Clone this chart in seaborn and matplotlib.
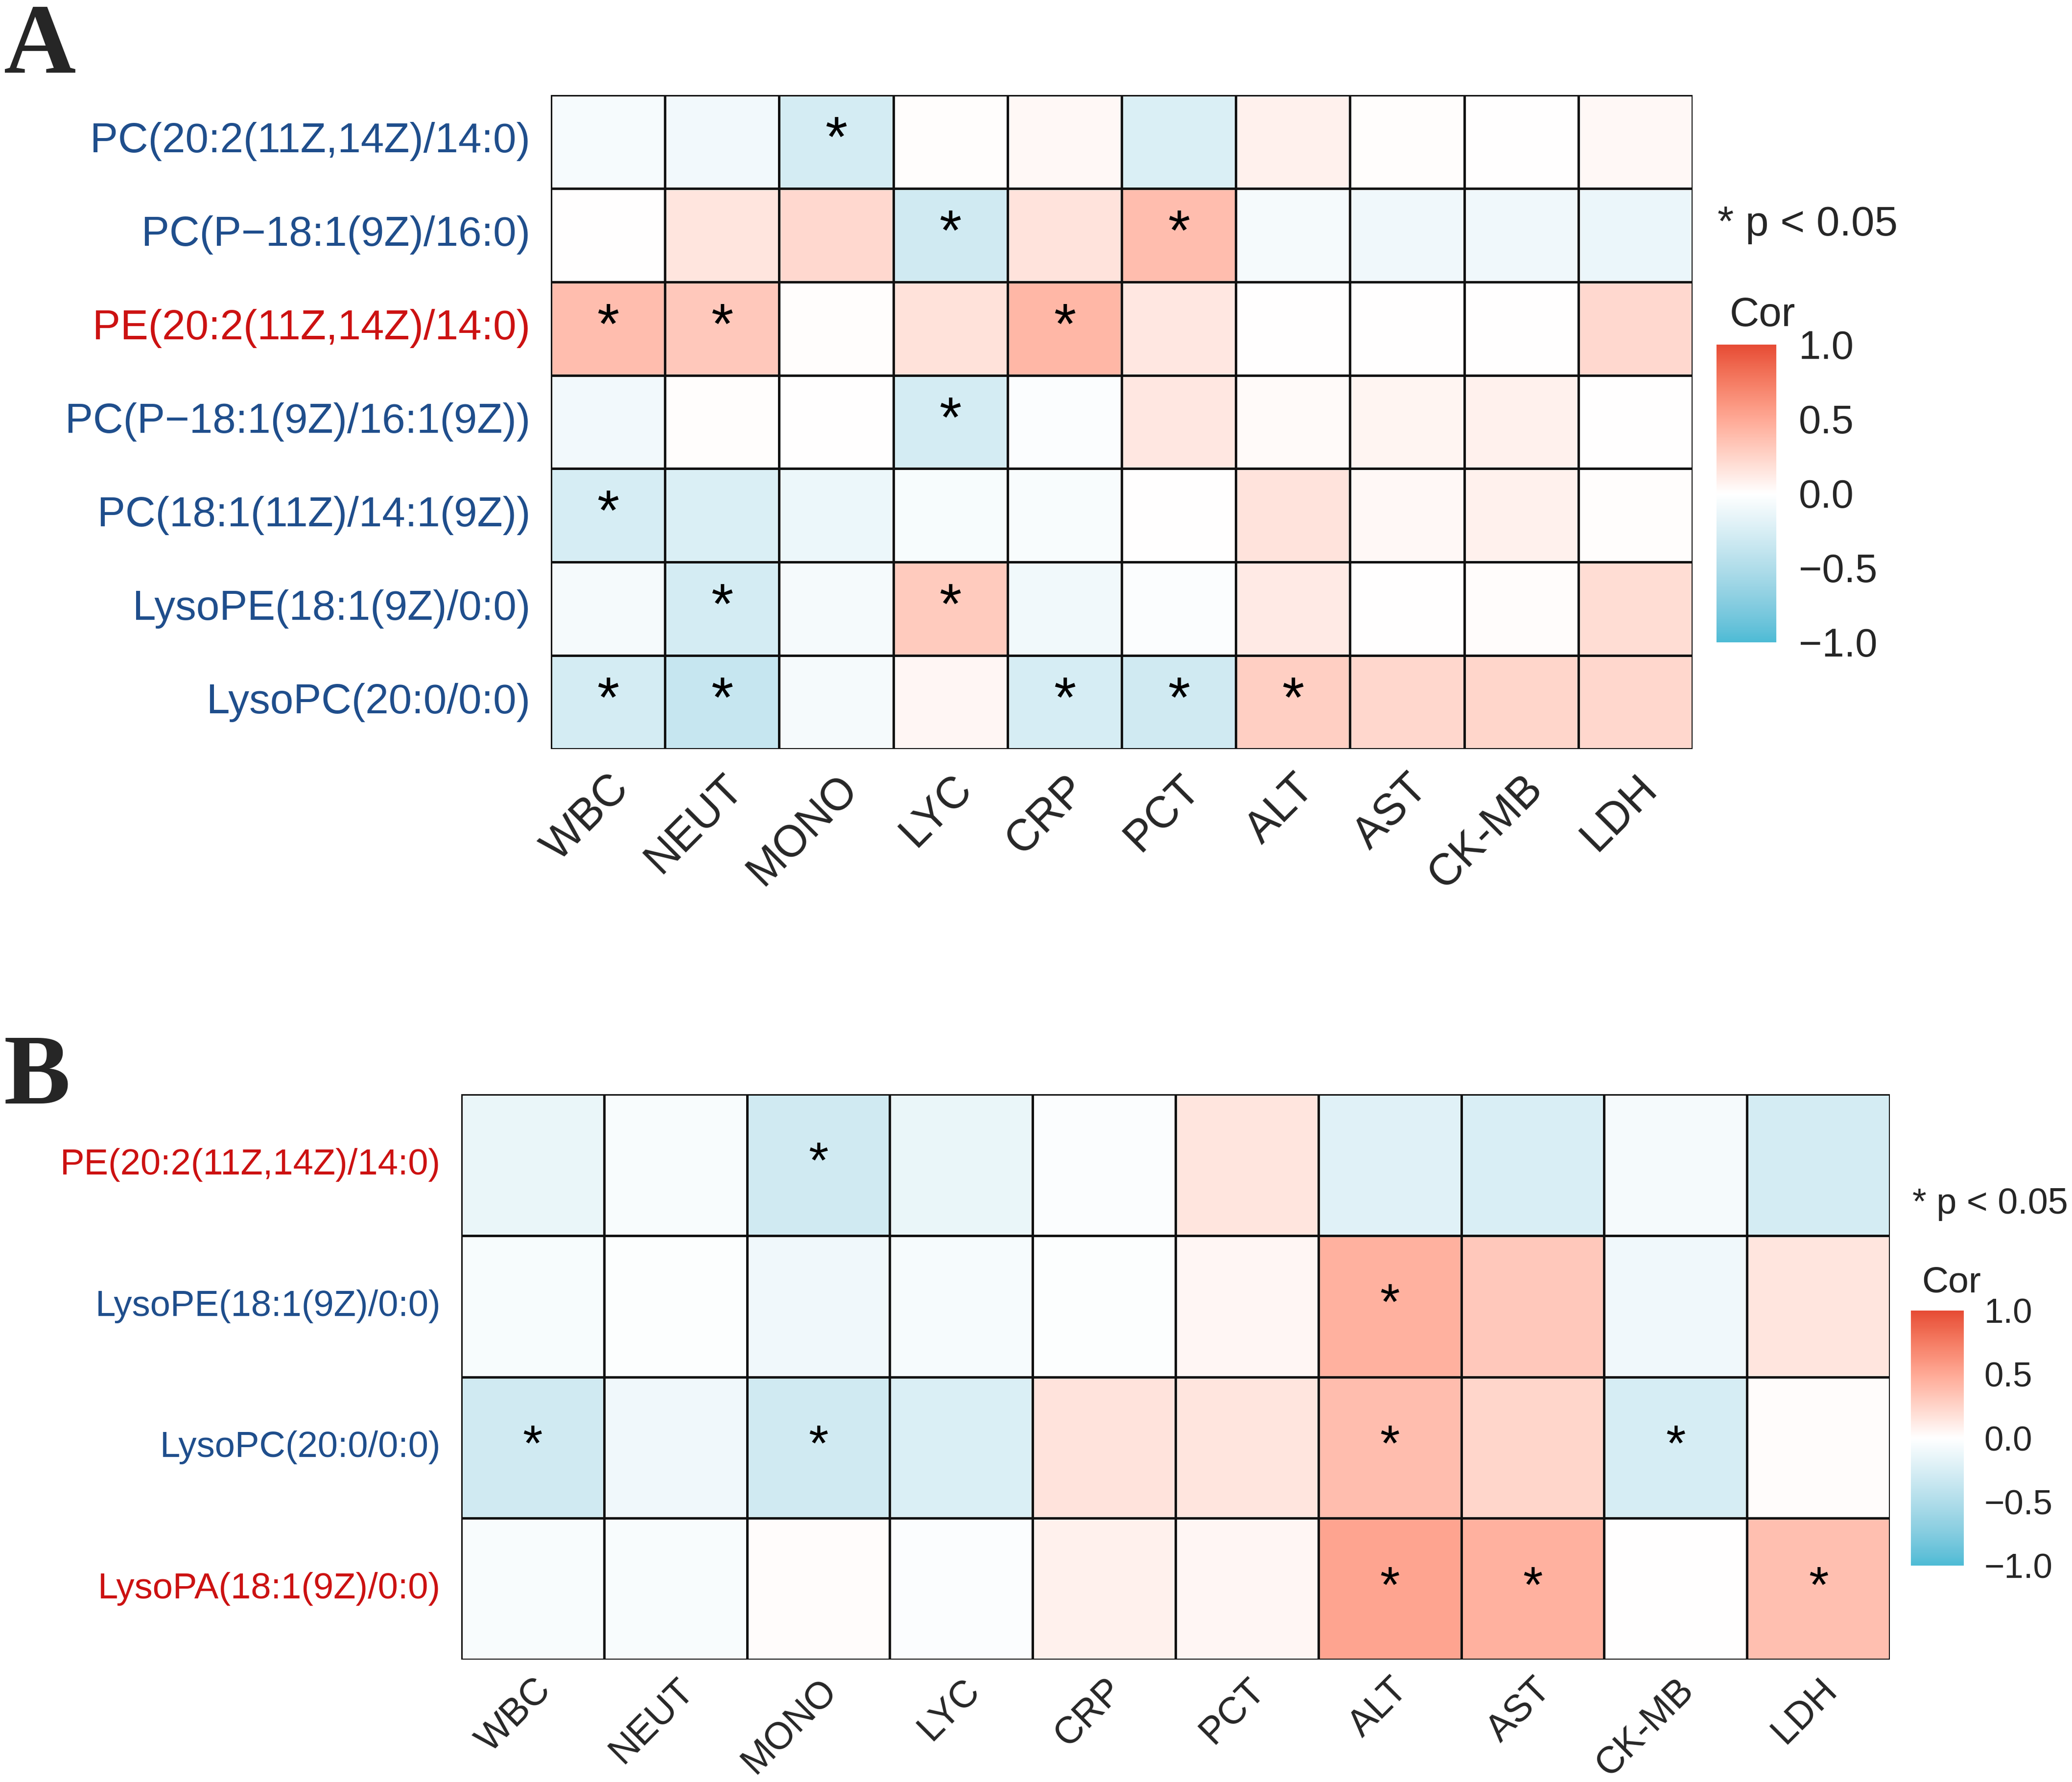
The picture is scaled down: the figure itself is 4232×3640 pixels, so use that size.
import numpy as np
import pandas as pd
import matplotlib
matplotlib.use("Agg")
import matplotlib.pyplot as plt
import seaborn as sns
from matplotlib.colors import ListedColormap, to_rgb

# ---- data ----
clinical = ["WBC", "NEUT", "MONO", "LYC", "CRP", "PCT", "ALT", "AST", "CK-MB", "LDH"]

lipids_a = ["PC(20:2(11Z,14Z)/14:0)", "PC(P\u221218:1(9Z)/16:0)", "PE(20:2(11Z,14Z)/14:0)",
            "PC(P\u221218:1(9Z)/16:1(9Z))", "PC(18:1(11Z)/14:1(9Z))", "LysoPE(18:1(9Z)/0:0)",
            "LysoPC(20:0/0:0)"]
cor_a = [
    [-0.06, -0.08, -0.28, 0.01, 0.04, -0.24, 0.08, 0.01, 0.00, 0.04],
    [0.00, 0.15, 0.22, -0.30, 0.16, 0.38, -0.07, -0.10, -0.10, -0.13],
    [0.38, 0.32, 0.01, 0.17, 0.42, 0.14, 0.00, 0.00, 0.00, 0.22],
    [-0.08, 0.01, 0.00, -0.28, -0.03, 0.14, 0.03, 0.06, 0.08, 0.00],
    [-0.26, -0.24, -0.12, -0.05, -0.04, 0.00, 0.16, 0.04, 0.08, 0.01],
    [-0.07, -0.28, -0.07, 0.30, -0.09, -0.03, 0.12, 0.00, 0.02, 0.20],
    [-0.28, -0.36, -0.07, 0.05, -0.26, -0.30, 0.28, 0.23, 0.24, 0.23],
]
sig_a = [
    [0, 0, 1, 0, 0, 0, 0, 0, 0, 0],
    [0, 0, 0, 1, 0, 1, 0, 0, 0, 0],
    [1, 1, 0, 0, 1, 0, 0, 0, 0, 0],
    [0, 0, 0, 1, 0, 0, 0, 0, 0, 0],
    [1, 0, 0, 0, 0, 0, 0, 0, 0, 0],
    [0, 1, 0, 1, 0, 0, 0, 0, 0, 0],
    [1, 1, 0, 0, 1, 1, 1, 0, 0, 0],
]
label_col_a = ["blue", "blue", "red", "blue", "blue", "blue", "blue"]

lipids_b = ["PE(20:2(11Z,14Z)/14:0)", "LysoPE(18:1(9Z)/0:0)", "LysoPC(20:0/0:0)",
            "LysoPA(18:1(9Z)/0:0)"]
cor_b = [
    [-0.14, -0.04, -0.30, -0.14, -0.03, 0.15, -0.20, -0.25, -0.07, -0.28],
    [-0.05, -0.02, -0.10, -0.06, -0.02, 0.05, 0.45, 0.32, -0.10, 0.15],
    [-0.30, -0.10, -0.30, -0.24, 0.16, 0.15, 0.38, 0.24, -0.26, 0.02],
    [-0.04, -0.04, 0.02, -0.03, 0.08, 0.05, 0.53, 0.45, 0.00, 0.37],
]
sig_b = [
    [0, 0, 1, 0, 0, 0, 0, 0, 0, 0],
    [0, 0, 0, 0, 0, 0, 1, 0, 0, 0],
    [1, 0, 1, 0, 0, 0, 1, 0, 1, 0],
    [0, 0, 0, 0, 0, 0, 1, 1, 0, 1],
]
label_col_b = ["red", "blue", "blue", "red"]

colors = {"blue": "#1F4E8C", "red": "#CC1111"}


# diverging ramp interpolated in Lab space (like ggplot's gradient2)
WHITE = np.array([0.95047, 1.0, 1.08883])
M = np.array([[0.4124, 0.3576, 0.1805], [0.2126, 0.7152, 0.0722], [0.0193, 0.1192, 0.9505]])


def rgb2lab(c):
    c = np.array(to_rgb(c))
    lin = np.where(c <= 0.04045, c / 12.92, ((c + 0.055) / 1.055) ** 2.4)
    xyz = M @ lin / WHITE
    f = np.where(xyz > 0.008856, np.cbrt(xyz), 7.787 * xyz + 16 / 116)
    return np.array([116 * f[1] - 16, 500 * (f[0] - f[1]), 200 * (f[1] - f[2])])


def lab2rgb(lab):
    fy = (lab[..., 0] + 16) / 116
    fx = fy + lab[..., 1] / 500
    fz = fy - lab[..., 2] / 200
    f = np.stack([fx, fy, fz], axis=-1)
    xyz = np.where(f > 0.2069, f ** 3, (f - 16 / 116) / 7.787) * WHITE
    lin = xyz @ np.linalg.inv(M).T
    lin = np.clip(lin, 0, 1)
    c = np.where(lin <= 0.0031308, 12.92 * lin, 1.055 * lin ** (1 / 2.4) - 0.055)
    return np.clip(c, 0, 1)


lo, mid, hi = rgb2lab("#4DBBD5"), rgb2lab("#FFFFFF"), rgb2lab("#E64B35")
t = np.linspace(-1, 1, 256)[:, None]
lab = np.where(t < 0, mid + (lo - mid) * (-t), mid + (hi - mid) * t)
cmap = ListedColormap(lab2rgb(lab))

sns.set_style("white")
plt.rcParams["font.family"] = ["Liberation Sans", "DejaVu Sans"]

W, H = 4232, 3640
fig = plt.figure(figsize=(W / 300, H / 300), dpi=300)


def box(x0, y0, x1, y1):
    return [x0 / W, 1 - y1 / H, (x1 - x0) / W, (y1 - y0) / H]


def panel(ax, cax, rows, cor, sig, cols, ylab_fs, xlab_fs, xpad, star_fs, cb_fs, cb_pad):
    df = pd.DataFrame(cor, index=rows, columns=clinical)
    stars = np.where(np.array(sig) == 1, "*", "")
    sns.heatmap(df, ax=ax, cbar_ax=cax, cmap=cmap, vmin=-1, vmax=1,
                linewidths=0.8, linecolor="#111111",
                annot=stars, fmt="", annot_kws={"fontsize": star_fs, "color": "black"})
    ax.tick_params(axis="both", length=0)
    ax.tick_params(axis="y", pad=10)
    ax.tick_params(axis="x", pad=xpad)
    ax.set_yticklabels(rows, rotation=0, fontsize=ylab_fs)
    for tl, c in zip(ax.get_yticklabels(), cols):
        tl.set_color(colors[c])
    ax.set_xticklabels(clinical, rotation=45, ha="right", va="top",
                       rotation_mode="anchor", fontsize=xlab_fs)
    ax.set_xlabel("")
    ax.set_ylabel("")
    cb = ax.collections[0].colorbar
    cb.outline.set_visible(False)
    cb.set_ticks([-1, -0.5, 0, 0.5, 1])
    cb.set_ticklabels(["\u22121.0", "\u22120.5", "0.0", "0.5", "1.0"])
    cax.tick_params(direction="in", color="white", length=6, width=1.2,
                    left=True, right=True, labelsize=cb_fs, pad=cb_pad)


axA = fig.add_axes(box(1125, 194, 3457, 1530))
caxA = fig.add_axes(box(3506, 704, 3628, 1312))
panel(axA, caxA, lipids_a, cor_a, sig_a, label_col_a, 20.5, 21.5, 9, 28, 19.5, 11)

axB = fig.add_axes(box(942, 2235, 3860, 3390))
caxB = fig.add_axes(box(3903, 2677, 4011, 3198))
panel(axB, caxB, lipids_b, cor_b, sig_b, label_col_b, 17.8, 18.5, 6, 25, 17, 10)

fig.text(3508 / W, 1 - 481 / H, "* p < 0.05", fontsize=20.5, va="baseline", ha="left")
fig.text(3533 / W, 1 - 666 / H, "Cor", fontsize=20, va="baseline", ha="left")
fig.text(3906 / W, 1 - 2479 / H, "* p < 0.05", fontsize=17.7, va="baseline", ha="left")
fig.text(3925 / W, 1 - 2640 / H, "Cor", fontsize=18, va="baseline", ha="left")

fig.text(8 / W, 1 - 148 / H, "A", fontsize=49, fontweight="bold",
         family=["Liberation Serif", "DejaVu Serif"], va="baseline", ha="left")
fig.text(8 / W, 1 - 2254 / H, "B", fontsize=49, fontweight="bold",
         family=["Liberation Serif", "DejaVu Serif"], va="baseline", ha="left")

fig.savefig("out.png", dpi=300, facecolor="white")
